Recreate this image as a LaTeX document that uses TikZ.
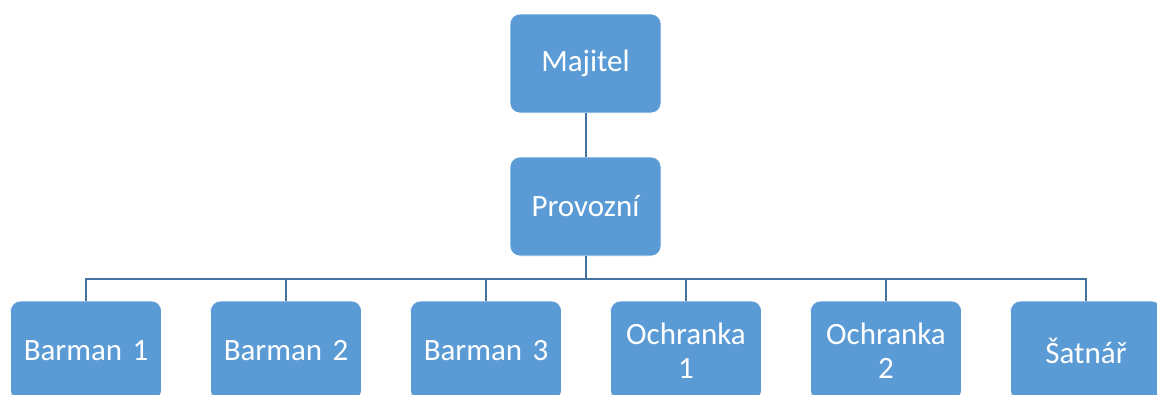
\documentclass[tikz,border=0pt]{standalone}
\usepackage{fontspec}
\setmainfont{Carlito}
\definecolor{boxfill}{HTML}{5B9BD5}
\definecolor{lineblue}{HTML}{41719C}
\begin{document}
\begin{tikzpicture}[x=1pt,y=-1pt,
  orgbox/.style={fill=boxfill, draw=white, line width=0.6pt, rounded corners=10pt,
    minimum width=151pt, minimum height=99pt, inner sep=2pt,
    text=white, font=\fontsize{31}{34}\selectfont, align=center, text width=140pt},
  conn/.style={draw=lineblue, line width=2pt}]
\clip (0,0) rectangle (1157,394);
\fill[white] (0,0) rectangle (1157,394);
\node[orgbox] (maj) at (585.5,63.5) {Majitel};
\node[orgbox] (pro) at (585.5,206.5) {Provozní};
\node[orgbox] (b1) at (86,350.5) {Barman 1};
\node[orgbox] (b2) at (286,350.5) {Barman 2};
\node[orgbox] (b3) at (486,350.5) {Barman 3};
\node[orgbox] (o1) at (686,350.5) {Ochranka\\1};
\node[orgbox] (o2) at (886,350.5) {Ochranka\\2};
\node[orgbox] (sat) at (1086,350.5) {Šatnář};
\coordinate (bar) at (585.5,278.5);
\draw[conn] (maj.south) -- (pro.north);
\draw[conn] (pro.south) -- (bar);
\foreach \c in {b1,b2,b3,o1,o2,sat}{
  \draw[conn] (bar) -| (\c.north);
}
\end{tikzpicture}
\end{document}
